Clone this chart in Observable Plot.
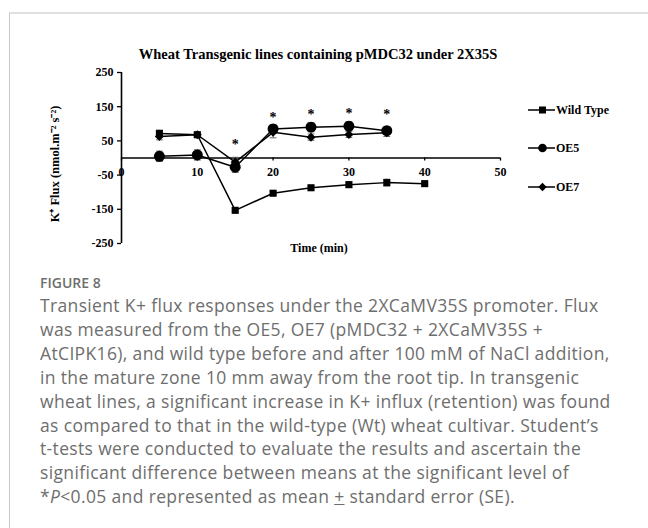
<!DOCTYPE html>
<html>
<head>
<meta charset="utf-8">
<script src="https://cdn.jsdelivr.net/npm/d3@7"></script>
<script src="https://cdn.jsdelivr.net/npm/@observablehq/plot@0.6"></script>
<style>
  html, body { margin: 0; padding: 0; background: #fff; }
  #page { position: relative; width: 648px; height: 528px; overflow: hidden; }
  #btop { position: absolute; left: 9px; top: 12px; width: 639px; height: 2px; background: #e0e0e0; }
  #bleft { position: absolute; left: 9px; top: 13px; width: 1px; height: 515px; background: #c8c8c8; }
  #chart { position: absolute; left: 0; top: 0; }
  #title { position: absolute; left: 0; top: 46px; width: 636px; text-align: center;
           font: bold 14.5px "Liberation Serif", "Times New Roman", serif; color: #000; line-height: 17px; }
  #ylab { position: absolute; left: 54px; top: 164px; width: 0; height: 0; }
  #ylab span { position: absolute; left: 0; top: 0; transform: translate(-50%, -50%) rotate(-90deg);
               white-space: nowrap; font: bold 12.5px "Liberation Serif", serif; color: #000; }
  #legend { position: absolute; left: 528px; top: 0; font: bold 12px "Liberation Serif", serif; color: #000; }
  .li { position: absolute; left: 0; display: flex; align-items: center; white-space: nowrap; }
  .li svg { display: block; }
  #fig { position: absolute; left: 40px; top: 274px; font: 600 14px "Open Sans", sans-serif; color: #6e6e6e; line-height: 17px; }
  #cap { position: absolute; left: 40px; top: 294px; font: 400 17.5px "Open Sans", sans-serif; letter-spacing: 0.35px; color: #6e6e6e; line-height: 23.9px; }
  #cap div { white-space: nowrap; }
</style>
</head>
<body>
<div id="page">
  <div id="btop"></div>
  <div id="bleft"></div>
  <div id="chart"></div>
  <div id="title"></div>
  <div id="ylab"><span></span></div>
  <div id="legend"></div>
  <div id="fig">FIGURE 8</div>
  <div id="cap"></div>
</div>
<script>
// ---- data ----
const titleText = "Wheat Transgenic lines containing pMDC32 under 2X35S";
const yLabel = "K\u207A Flux (nmol.m\u207B\u00B2 s\u207B\u00B2)";
const xLabel = "Time (min)";
const xTicks = [0, 10, 20, 30, 40, 50];
const yTicks = [-250, -150, -50, 50, 150, 250];

const seriesNames = ["Wild Type", "OE5", "OE7"];
const wtTime = [5, 10, 15, 20, 25, 30, 35, 40];
const wtVal  = [72, 68, -153, -103, -87, -78, -72, -75];
const wtErr  = [9, 5, 4, 5, 5, 8, 10, 3];
const oeTime = [5, 10, 15, 20, 25, 30, 35];
const oe5Val = [5, 9, -27, 85, 90, 93, 80];
const oe5Err = [15, 15, 15, 12, 13, 13, 10];
const oe7Val = [63, 68, -12, 75, 61, 69, 74];
const oe7Err = [10, 8, 14, 16, 9, 9, 11];
const starTime = [15, 20, 25, 30, 35];
const starVal  = [40, 118, 128, 131, 128];

const captionLines = [
  "Transient K+ flux responses under the 2XCaMV35S promoter. Flux",
  "was measured from the OE5, OE7 (pMDC32 + 2XCaMV35S +",
  "AtCIPK16), and wild type before and after 100 mM of NaCl addition,",
  "in the mature zone 10 mm away from the root tip. In transgenic",
  "wheat lines, a significant increase in K+ influx (retention) was found",
  "as compared to that in the wild-type (Wt) wheat cultivar. Student\u2019s",
  "t-tests were conducted to evaluate the results and ascertain the",
  "significant difference between means at the significant level of",
  "*<i>P</i>&lt;0.05 and represented as mean <u>+</u> standard error (SE)."
];

// ---- tables ----
const wt = wtTime.map((t, i) => ({t, v: wtVal[i], e: wtErr[i]}));
const oe5 = oeTime.map((t, i) => ({t, v: oe5Val[i], e: oe5Err[i]}));
const oe7 = oeTime.map((t, i) => ({t, v: oe7Val[i], e: oe7Err[i]}));
const stars = starTime.map((t, i) => ({t, v: starVal[i]}));
const all = [...wt, ...oe5, ...oe7];

const capHalf = 0.45;
const errMarks = (data) => [
  Plot.ruleX(data, {x: "t", y1: d => d.v - d.e, y2: d => d.v + d.e, stroke: "#666", strokeWidth: 1}),
  Plot.link(data, {x1: d => d.t - capHalf, x2: d => d.t + capHalf, y1: d => d.v + d.e, y2: d => d.v + d.e, stroke: "#666", strokeWidth: 1}),
  Plot.link(data, {x1: d => d.t - capHalf, x2: d => d.t + capHalf, y1: d => d.v - d.e, y2: d => d.v - d.e, stroke: "#666", strokeWidth: 1})
];

const chart = Plot.plot({
  width: 648,
  height: 262,
  marginLeft: 121,
  marginRight: 148,
  marginTop: 72,
  marginBottom: 19,
  style: {fontFamily: "'Liberation Serif', 'Times New Roman', serif", fontSize: "12px", fontWeight: "bold", color: "#000", background: "transparent", overflow: "visible"},
  x: {domain: [0, 50], axis: null},
  y: {domain: [-250, 250], axis: null},
  marks: [
    Plot.axisY({ticks: yTicks, tickFormat: d => String(d), tickSize: 4, tickPadding: 4, label: null, stroke: "#000", strokeWidth: 1.3, fill: "#000", fontSize: 12}),
    Plot.ruleX([0], {y1: -250, y2: 250, stroke: "#000", strokeWidth: 1.6}),
    Plot.ruleY([0], {x1: 0, x2: 50, stroke: "#000", strokeWidth: 1.6}),
    Plot.ruleX(xTicks, {x: d => d, y1: 0, y2: -9, stroke: "#000", strokeWidth: 1.3}),
    Plot.text(xTicks, {x: d => d, y: 0, dy: 14, text: d => String(d), fill: "#000", fontSize: 12}),
    Plot.text([xLabel], {frameAnchor: "bottom", dx: 8, dy: 8, text: d => d, fontSize: 12, fill: "#000", lineAnchor: "bottom"}),
    ...errMarks(all),
    Plot.line(wt, {x: "t", y: "v", stroke: "#000", strokeWidth: 1.5}),
    Plot.line(oe5, {x: "t", y: "v", stroke: "#000", strokeWidth: 1.5}),
    Plot.line(oe7, {x: "t", y: "v", stroke: "#000", strokeWidth: 1.5}),
    Plot.dot(wt, {x: "t", y: "v", symbol: "square", r: 4, fill: "#000", stroke: null}),
    Plot.dot(oe5, {x: "t", y: "v", symbol: "circle", r: 5.5, fill: "#000", stroke: null}),
    Plot.dot(oe7, {x: "t", y: "v", symbol: "square", r: 3.6, rotate: 45, fill: "#000", stroke: null}),
    Plot.text(stars, {x: "t", y: "v", text: () => "*", fontSize: 14, fontWeight: "bold", fill: "black", lineAnchor: "middle"})
  ]
});
document.getElementById("chart").appendChild(chart);
document.getElementById("title").textContent = titleText;
document.querySelector("#ylab span").textContent = yLabel;

// legend
const legendY = [110, 148, 187];
const legendSym = [
  '<rect x="11" y="-3.5" width="7" height="7" fill="#000"/>',
  '<circle cx="14.5" cy="0" r="4.3" fill="#000"/>',
  '<path d="M14.5,-4.2L18.7,0L14.5,4.2L10.3,0Z" fill="#000"/>'
];
const lg = document.getElementById("legend");
seriesNames.forEach((name, i) => {
  const div = document.createElement("div");
  div.className = "li";
  div.style.top = (legendY[i] - 8) + "px";
  div.innerHTML = `<svg width="27" height="16" viewBox="0 -8 27 16"><line x1="0" y1="0" x2="27" y2="0" stroke="#000" stroke-width="1.5"/>${legendSym[i]}</svg><span style="margin-left:1px">${name}</span>`;
  lg.appendChild(div);
});

document.getElementById("cap").innerHTML = captionLines.map(l => `<div>${l}</div>`).join("");
</script>
</body>
</html>
